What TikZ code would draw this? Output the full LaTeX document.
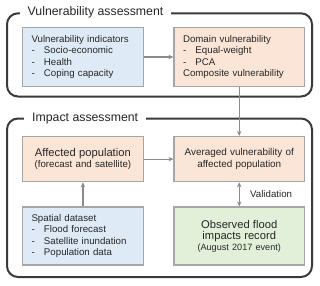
\documentclass[tikz,border=0pt]{standalone}
\usepackage{fontspec}
\setmainfont{Liberation Sans}
\usetikzlibrary{arrows.meta}

\definecolor{boxblue}{HTML}{DEEBF7}
\definecolor{boxpeach}{HTML}{FBE5D6}
\definecolor{boxgreen}{HTML}{E2F0D9}
\definecolor{boxline}{HTML}{A6A6A6}
\definecolor{frameline}{HTML}{3A3A3A}
\definecolor{arrowgray}{HTML}{8C8C8C}
\newcommand{\itm}{\makebox[12.5pt][l]{-}}
\newcommand{\smallfont}{\fontsize{9.7}{11.6}\selectfont}
\newcommand{\bigfont}{\fontsize{11.2}{13.4}\selectfont}

\begin{document}
\begin{tikzpicture}[x=1pt,y=-1pt,
    box/.style={draw=boxline,line width=1.2pt,inner ysep=0pt,font=\smallfont,text=black!85},
    listbox/.style={box,align=left,inner xsep=9pt},
    centerbox/.style={box,align=center,inner xsep=4pt},
    frame/.style={draw=frameline,line width=2pt,rounded corners=11pt},
    framelabel/.style={fill=white,inner xsep=8pt,inner ysep=1pt,anchor=base west,
      font=\fontsize{12.3}{14}\selectfont,text=black!85},
    conn/.style={draw=arrowgray,line width=1.2pt,-{Stealth[length=5pt,width=4.5pt]}},
    twoway/.style={conn,{Stealth[length=5pt,width=4.5pt]}-{Stealth[length=5pt,width=4.5pt]}}]
    \useasboundingbox (0,0) rectangle (320,285);

    \draw[frame] (7,13.3) rectangle (312,96.5);
    \draw[frame] (7,118.5) rectangle (312,277);
    \node[framelabel] (vulnlabel) at (19.5,15.2) {Vulnerability assessment};
    \node[framelabel] (impactlabel) at (24,121.3) {Impact assessment};

    \node[listbox,fill=boxblue,text width=102.8pt,minimum height=59pt] (indic) at (82.9,57)
      {Vulnerability indicators\\ \itm Socio-economic\\ \itm Health\\ \itm Coping capacity};
    \node[listbox,fill=boxpeach,text width=112.5pt,minimum height=59pt] (domain) at (239.25,57)
      {Domain vulnerability\\ \itm Equal-weight\\ \itm PCA\\ Composite vulnerability};

    \node[centerbox,fill=boxpeach,text width=112.8pt,minimum height=45.2pt] (affected) at (82.9,159.1)
      {{\bigfont Affected population}\\[-1pt] (forecast and satellite)};
    \node[centerbox,fill=boxpeach,text width=122.5pt,minimum height=45.2pt] (averaged) at (239.25,159.1)
      {\fontsize{9.9}{11}\selectfont Averaged vulnerability of\\ affected population};

    \node[listbox,fill=boxblue,text width=102.8pt,minimum height=58pt] (spatial) at (82.9,236)
      {Spatial dataset\\ \itm Flood forecast\\ \itm Satellite inundation\\ \itm Population data};
    \node[centerbox,fill=boxgreen,text width=122.5pt,minimum height=58pt] (observed) at (239.25,236)
      {{\bigfont Observed flood\\ impacts record}\\[-1pt] {\fontsize{9.1}{11}\selectfont (August 2017 event)}};

    \foreach \a/\b in {indic/domain, domain/averaged, affected/averaged, spatial/affected} {
      \draw[conn] (\a) -- (\b);
    }
    \draw[twoway] (averaged) -- (observed) node[midway,right=7pt,font=\smallfont,text=black!85] (valid) {Validation};
\end{tikzpicture}
\end{document}
